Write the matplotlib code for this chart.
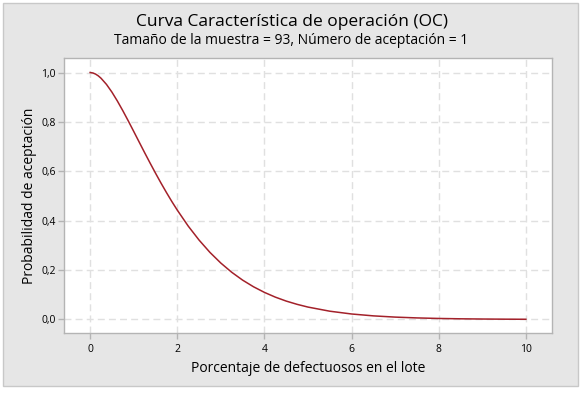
import matplotlib
matplotlib.use("Agg")
import matplotlib.pyplot as plt
from matplotlib.patches import Rectangle

plt.rcParams['font.family'] = ['Open Sans', 'DejaVu Sans']

# Data (percent defective vs probability of acceptance)
pct_defective = [0.0, 0.0625, 0.125, 0.1875, 0.25, 0.375, 0.5, 0.625, 0.75, 0.875,
                 1.0, 1.125, 1.25, 1.375, 1.5, 1.625, 1.75, 1.875, 2.0, 2.25, 2.5,
                 2.75, 3.0, 3.25, 3.5, 3.75, 4.0, 4.25, 4.5, 4.75, 5.0, 5.5, 6.0,
                 6.5, 7.0, 7.5, 8.0, 8.5, 9.0, 9.5, 10.0]
prob_accept = [1.0, 0.9984, 0.9938, 0.9866, 0.977, 0.952, 0.9207, 0.8847, 0.8455,
               0.8042, 0.7616, 0.7186, 0.6757, 0.6337, 0.5926, 0.5527, 0.5144,
               0.4776, 0.4428, 0.3783, 0.3214, 0.2714, 0.2282, 0.1909, 0.1591,
               0.1322, 0.1095, 0.0903, 0.0743, 0.0611, 0.050, 0.0333, 0.022,
               0.0144, 0.0094, 0.0061, 0.0039, 0.0025, 0.0016, 0.0010, 0.0006]
x_ticks = [0, 2, 4, 6, 8, 10]
y_ticks = [0.0, 0.2, 0.4, 0.6, 0.8, 1.0]
y_tick_labels = ['0,0', '0,2', '0,4', '0,6', '0,8', '1,0']

title = 'Curva Característica de operación (OC)'
subtitle = 'Tamaño de la muestra = 93, Número de aceptación = 1'
xlabel = 'Porcentaje de defectuosos en el lote'
ylabel = 'Probabilidad de aceptación'

W, H = 583, 393
fig = plt.figure(figsize=(W / 100, H / 100), dpi=100)
fig.patch.set_facecolor('white')
fig.add_artist(Rectangle((3 / W, 1 - 386 / H), 575 / W, 383 / H,
                         transform=fig.transFigure, facecolor='#e6e6e6',
                         edgecolor='#c8c8c8', linewidth=1, zorder=0))

ax = fig.add_axes([64 / W, 1 - 333 / H, (552 - 64) / W, (333 - 58) / H])
ax.set_facecolor('white')
ax.plot(pct_defective, prob_accept, color='#a3212a', linewidth=1.1, zorder=3)

ax.set_xlim(-0.6, 10.6)
ax.set_ylim(-0.055, 1.059)
ax.set_xticks(x_ticks)
ax.set_xticklabels([str(v) for v in x_ticks])
ax.set_yticks(y_ticks)
ax.set_yticklabels(y_tick_labels)
ax.grid(True, color='#e0e0e0', linestyle=(0, (5, 3)), linewidth=1.0)
ax.set_axisbelow(True)
for s in ax.spines.values():
    s.set_color('#b4b4b4')
    s.set_linewidth(1.0)
ax.tick_params(axis='both', colors='#b4b4b4', labelcolor='black', labelsize=7.5,
               length=4, width=1)
ax.tick_params(axis='y', pad=2)
ax.tick_params(axis='x', pad=4)

ax.set_xlabel(xlabel, fontsize=10)
ax.set_ylabel(ylabel, fontsize=10)
ax.yaxis.set_label_coords(-0.056, 0.5)
ax.xaxis.set_label_coords(0.5, -0.1)

fig.text(0.5, 1 - 22 / H, title, ha='center', va='center', fontsize=12.5)
fig.text(0.5, 1 - 41 / H, subtitle, ha='center', va='center', fontsize=10)

fig.savefig('out.png', dpi=100, facecolor=fig.get_facecolor())
